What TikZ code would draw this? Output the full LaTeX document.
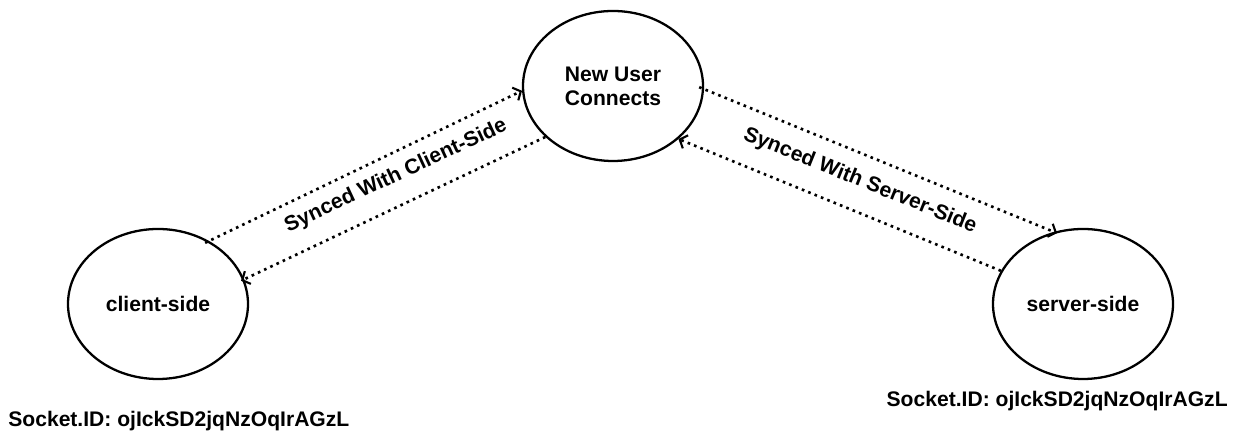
\documentclass[tikz,border=0pt]{standalone}
\usepackage{fontspec}
\setmainfont{Liberation Sans}
\usetikzlibrary{shapes.geometric,arrows.meta}

\begin{document}
\begin{tikzpicture}[
    state/.style={ellipse, draw, line width=1.3pt, minimum width=3.6cm, minimum height=3.0cm,
        inner sep=0pt, align=center, font=\fontsize{12}{13.6}\selectfont\bfseries},
    sync/.style={line width=1.5pt, dash pattern=on 1.5pt off 2.4pt,
        -{Straight Barb[length=3.5pt,width=8pt,line width=1.2pt]}},
    tag/.style={inner sep=0pt, font=\fontsize{12}{13.6}\selectfont\bfseries}
]
    \useasboundingbox (0,0) rectangle (24.76,8.64);
    % States
    \node[state] (newuser) at (12.26,6.92) {New User\\Connects};
    \node[state] (client) at (3.16,2.56) {client-side};
    \node[state] (server) at (21.66,2.56) {server-side};
    % Socket ids
    \node[tag, anchor=base west] (clientid) at (0.16,0.10) {Socket.ID: ojIckSD2jqNzOqIrAGzL};
    \node[tag, anchor=base east] (serverid) at (24.56,0.50) {Socket.ID: ojIckSD2jqNzOqIrAGzL};
    % Client sync
    \draw[sync, shorten <=-2.5pt] (client.51) -- (newuser.183);
    \draw[sync, shorten >=-2pt] (newuser.217) -- (client.16);
    \node[tag, rotate=25] (clientsync) at (7.92,5.12) {Synced With Client-Side};
    % Server sync
    \draw[sync, shorten <=-3pt, shorten >=-2pt] (newuser.-2) -- (server.112);
    \draw[sync] (server.158) -- (newuser.-39);
    \node[tag, rotate=-22] (serversync) at (17.20,5.02) {Synced With Server-Side};
\end{tikzpicture}
\end{document}
